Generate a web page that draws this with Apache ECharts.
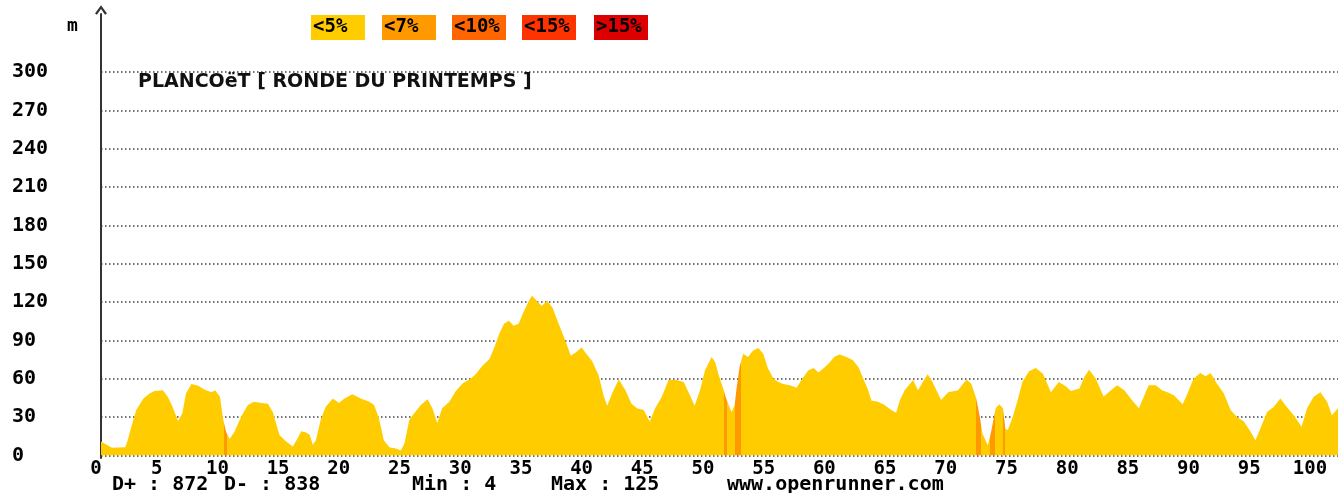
<!DOCTYPE html>
<html><head><meta charset="utf-8">
<script src="https://cdn.jsdelivr.net/npm/echarts@6/dist/echarts.min.js"></script>
<style>html,body{margin:0;padding:0;background:#fff}#c{width:1341px;height:493px}</style>
</head><body><div id="c"></div>
<script>
// ---- data ----
const distanceKm = [0, 0.9, 2.0, 2.2, 2.5, 2.9, 3.5, 4.0, 4.4, 5.1, 5.5, 5.9, 6.35, 6.7, 7.0, 7.45, 8.0, 8.55, 9.1, 9.4, 9.8, 10.05, 10.3, 10.6, 11.0, 11.55, 12.1, 12.6, 13.2, 13.75, 14.15, 14.7, 15.25, 15.8, 16.2, 16.5, 16.9, 17.2, 17.45, 17.7, 18.1, 18.5, 19.1, 19.6, 20.05, 20.7, 21.4, 22.1, 22.5, 22.9, 23.3, 23.75, 24.3, 24.7, 25.0, 25.4, 25.8, 26.35, 26.9, 27.3, 27.7, 28.1, 28.7, 29.2, 29.8, 30.45, 30.9, 31.4, 32.0, 32.4, 32.8, 33.2, 33.6, 34.0, 34.4, 34.8, 35.25, 35.5, 35.9, 36.3, 36.75, 37.2, 37.7, 38.3, 38.7, 39.1, 39.6, 39.9, 40.45, 41.0, 41.4, 41.7, 42.1, 42.65, 43.2, 43.7, 44.15, 44.7, 45.2, 45.65, 46.2, 46.75, 47.4, 48.0, 48.4, 48.9, 49.35, 49.75, 50.3, 50.6, 50.85, 51.3, 51.45, 51.7, 51.95, 52.2, 52.35, 52.6, 52.9, 53.3, 53.7, 54.15, 54.55, 54.95, 55.4, 55.8, 56.2, 56.75, 57.3, 57.7, 58.25, 58.7, 59.1, 59.5, 59.9, 60.45, 60.85, 61.4, 61.95, 62.4, 62.8, 63.2, 63.45, 64.0, 64.55, 65.1, 65.5, 65.8, 66.2, 66.9, 67.3, 67.7, 68.1, 68.5, 69.2, 69.8, 70.6, 71.3, 71.7, 72.1, 72.4, 72.6, 73.05, 73.3, 73.7, 74.0, 74.3, 74.5, 74.7, 75.1, 75.5, 75.9, 76.45, 77.0, 77.6, 78.25, 78.9, 79.5, 79.9, 80.6, 81.0, 81.4, 81.95, 82.6, 83.0, 83.7, 84.3, 84.95, 85.5, 85.9, 86.3, 86.9, 87.4, 87.95, 88.4, 89.1, 89.5, 90.0, 90.55, 91.0, 91.4, 91.95, 92.5, 93.05, 93.6, 94.15, 94.7, 95.1, 95.5, 96.05, 96.6, 97.15, 97.55, 98.25, 98.9, 99.35, 99.9, 100.45, 101.0, 101.4, 101.9];
const elevationM = [11, 6, 6.5, 12, 22.5, 35.5, 44.5, 48.5, 50.5, 51, 46, 38, 27, 33, 48.5, 56, 54.5, 51.5, 49.5, 51, 46, 29, 18.5, 13, 18.5, 30.5, 39.5, 42, 41, 40.5, 34, 16, 11, 7, 13.5, 19, 18, 16, 8.5, 12, 28, 38, 44.5, 41, 44.5, 48, 44.5, 42, 39.5, 29, 12, 6.5, 5.5, 4, 9.5, 28, 33, 39.5, 44, 37, 25.5, 37, 42, 50, 56.5, 60, 64, 70, 75.5, 84.5, 95, 103, 105.5, 101.5, 103, 112, 121, 125, 121, 117, 121, 115.5, 103, 88.5, 78, 80.5, 84.5, 80.5, 74, 62.5, 47, 39, 48.5, 59.5, 51, 40.5, 37, 35.5, 26.5, 37, 46, 59, 59, 57.5, 49.5, 39, 51, 66.5, 77, 73, 64, 51, 46, 39.5, 34, 39.5, 52, 69, 79.5, 77, 82, 84, 79.5, 68, 60, 57.5, 56, 55, 53, 59, 66.5, 68.5, 65, 68, 71.5, 77.5, 79, 77, 74.5, 69, 60, 51, 43, 42, 39.5, 35.5, 33.5, 43, 51, 59, 51, 57.5, 63.5, 57.5, 43.5, 49.5, 51, 59.5, 56, 44.5, 30, 17.5, 8, 17.5, 37, 40, 37, 21, 20, 30, 43, 57.5, 66, 68.5, 64, 49.5, 57.5, 54, 50.5, 52.5, 61.5, 67, 60, 46, 49.5, 55, 51, 43, 37, 46, 55, 55, 51, 49, 47, 40, 48.5, 60, 64.5, 62, 64.5, 56, 48.5, 35.5, 30, 26.5, 18.5, 12, 21, 34, 38, 44.5, 39.5, 31.5, 22.5, 37, 46, 49.5, 42, 31.5, 37];
// stretches drawn in the "<7%" colour (km from, km to)
const steepFromKm = [10.1, 51.3, 52.2, 72.1, 73.27, 74.3];
const steepToKm   = [10.35, 51.55, 52.7, 72.5, 73.65, 74.5];
const legendLabels = ['<5%', '<7%', '<10%', '<15%', '>15%'];
const statLabels = ['D+', 'D-', 'Min', 'Max'];
const statValues = [872, 838, 4, 125];
const titleText = 'PLANCOëT [ RONDE DU PRINTEMPS ]';
const unitText = 'm';
const siteText = 'www.openrunner.com';

// ---- styles / layout ----
const legendColors = ['#FFCC00', '#FF9900', '#FF6600', '#FF3300', '#DD0000'];
const legendLeft = [311, 382, 452, 522, 594];
const statLeft = [112, 224, 412, 551];
const mono = '"DejaVu Sans Mono", monospace';

const chart = echarts.init(document.getElementById('c'), null, {renderer: 'canvas'});
const seriesData = distanceKm.map((d, i) => [d, elevationM[i]]);

const graphic = [];
legendLabels.forEach((t, i) => {
  graphic.push({type: 'rect', left: legendLeft[i], top: 15, shape: {width: 54, height: 25}, style: {fill: legendColors[i]}, z: 10});
  graphic.push({type: 'text', left: legendLeft[i] + 2, top: 18, style: {text: t, font: 'bold 19px ' + mono, fill: '#000'}, z: 11});
});
graphic.push({type: 'text', left: 67, top: 17, style: {text: unitText, font: 'bold 18px ' + mono, fill: '#000'}});
statLabels.forEach((t, i) => {
  graphic.push({type: 'text', left: statLeft[i], top: 475, style: {text: t + ' : ' + statValues[i], font: 'bold 20px ' + mono, fill: '#000'}});
});
graphic.push({type: 'text', left: 727, top: 475, style: {text: siteText, font: 'bold 20px ' + mono, fill: '#000'}});

chart.setOption({
  animation: false,
  backgroundColor: '#fff',
  title: {text: titleText, left: 133, top: 68, textStyle: {fontFamily: '"DejaVu Sans"', fontWeight: 'bold', fontSize: 19, color: '#111'}},
  graphic: graphic,
  grid: [
    {left: 101, right: 0, top: 72, bottom: 37.5},
    {left: 101, right: 0, top: 14, bottom: 35}
  ],
  xAxis: [
    {type: 'value', min: 0, max: 101.9, interval: 5,
     axisLine: {show: false}, axisTick: {show: false}, splitLine: {show: false},
     axisLabel: {margin: 4, fontFamily: mono, fontWeight: 'bold', fontSize: 19, color: '#000', padding: [0, 10, 0, 0],
       formatter: v => (Math.abs(v % 5) < 1e-6 ? String(v) : '')}},
    {type: 'value', gridIndex: 1, min: 0, max: 1, show: false}
  ],
  yAxis: [
    {type: 'value', min: 0, max: 300, interval: 30,
     axisLine: {show: false}, axisTick: {show: false},
     axisLabel: {align: 'left', margin: 89, fontFamily: mono, fontWeight: 'bold', fontSize: 20, color: '#000'},
     splitLine: {show: true, lineStyle: {color: '#444', width: 1.5, type: [1.5, 2.5]}}},
    {type: 'value', gridIndex: 1, min: 0, max: 1,
     axisLine: {show: true, lineStyle: {color: '#333', width: 2}, symbol: ['none', 'path://M0,7 L5,0 L10,7 L8.4,8 L5,3.2 L1.6,8 Z'], symbolSize: [12, 10], symbolOffset: [0, 4]},
     axisTick: {show: false}, axisLabel: {show: false}, splitLine: {show: false}}
  ],
  visualMap: {
    type: 'piecewise', show: false, dimension: 0, seriesIndex: 0,
    pieces: steepFromKm.map((f, i) => ({gte: f, lte: steepToKm[i], color: legendColors[1]})),
    outOfRange: {color: legendColors[0]}
  },
  series: [{
    type: 'line', data: seriesData, showSymbol: false, symbol: 'none',
    lineStyle: {width: 0}, areaStyle: {opacity: 1}, z: 3
  }]
});
</script></body></html>
